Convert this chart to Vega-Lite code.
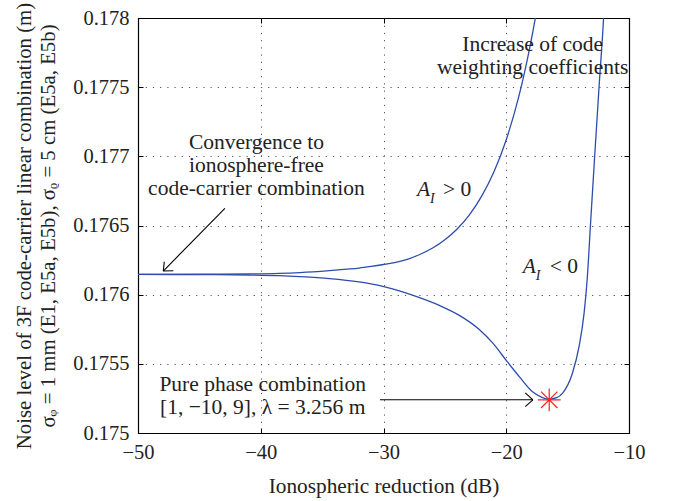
{
  "$schema": "https://vega.github.io/schema/vega-lite/v6.json",
  "width": 491,
  "height": 415,
  "autosize": "none",
  "padding": {"left": 138, "top": 18, "right": 44, "bottom": 68},
  "background": "white",
  "config": {
    "view": {"stroke": "black", "strokeWidth": 1},
    "axis": {
      "labelFont": "Liberation Serif, DejaVu Serif, serif",
      "titleFont": "Liberation Serif, DejaVu Serif, serif",
      "labelFontSize": 20.5,
      "titleFontSize": 21.3,
      "titleFontWeight": "normal",
      "labelColor": "#222",
      "titleColor": "#222",
      "labelFlush": false,
      "domainColor": "black",
      "domainWidth": 1.2,
      "tickColor": "black",
      "tickSize": -5,
      "gridColor": "#555",
      "gridDash": [1.2, 6],
      "gridWidth": 1,
      "gridOpacity": 1
    },
    "text": {"font": "Liberation Serif, DejaVu Serif, serif", "fontSize": 21.5, "color": "#222"}
  },
  "datasets": {
    "curves": [
      {"series": "AI>0", "x": -50, "y": 0.176147},
      {"series": "AI>0", "x": -45, "y": 0.176148},
      {"series": "AI>0", "x": -41, "y": 0.17615},
      {"series": "AI>0", "x": -38.5, "y": 0.176154},
      {"series": "AI>0", "x": -36.8, "y": 0.17616},
      {"series": "AI>0", "x": -34.4, "y": 0.176174},
      {"series": "AI>0", "x": -33, "y": 0.176184},
      {"series": "AI>0", "x": -32, "y": 0.176192},
      {"series": "AI>0", "x": -31, "y": 0.176204},
      {"series": "AI>0", "x": -30, "y": 0.176218},
      {"series": "AI>0", "x": -29, "y": 0.176234},
      {"series": "AI>0", "x": -28, "y": 0.176257},
      {"series": "AI>0", "x": -27, "y": 0.176292},
      {"series": "AI>0", "x": -26, "y": 0.176337},
      {"series": "AI>0", "x": -25, "y": 0.176397},
      {"series": "AI>0", "x": -24, "y": 0.176475},
      {"series": "AI>0", "x": -23, "y": 0.176577},
      {"series": "AI>0", "x": -22, "y": 0.176712},
      {"series": "AI>0", "x": -21, "y": 0.176888},
      {"series": "AI>0", "x": -20, "y": 0.17712},
      {"series": "AI>0", "x": -19, "y": 0.177424},
      {"series": "AI>0", "x": -18.5, "y": 0.17761},
      {"series": "AI>0", "x": -18, "y": 0.177823},
      {"series": "AI>0", "x": -17.5, "y": 0.178067},
      {"series": "AI>0", "x": -17, "y": 0.17835},
      {"series": "AI<0", "x": -50, "y": 0.176146},
      {"series": "AI<0", "x": -45, "y": 0.176145},
      {"series": "AI<0", "x": -41, "y": 0.176142},
      {"series": "AI<0", "x": -38.5, "y": 0.176137},
      {"series": "AI<0", "x": -36.8, "y": 0.17613},
      {"series": "AI<0", "x": -34.4, "y": 0.176116},
      {"series": "AI<0", "x": -32, "y": 0.176092},
      {"series": "AI<0", "x": -30.06, "y": 0.17606},
      {"series": "AI<0", "x": -28.7, "y": 0.176027},
      {"series": "AI<0", "x": -27.35, "y": 0.175987},
      {"series": "AI<0", "x": -25.45, "y": 0.175922},
      {"series": "AI<0", "x": -23.82, "y": 0.17585},
      {"series": "AI<0", "x": -22.2, "y": 0.175748},
      {"series": "AI<0", "x": -21.11, "y": 0.175651},
      {"series": "AI<0", "x": -19.94, "y": 0.175518},
      {"series": "AI<0", "x": -18.94, "y": 0.175408},
      {"series": "AI<0", "x": -17.86, "y": 0.175298},
      {"series": "AI<0", "x": -17.1, "y": 0.175258},
      {"series": "AI<0", "x": -16.5, "y": 0.175244},
      {"series": "AI<0", "x": -15.9, "y": 0.175255},
      {"series": "AI<0", "x": -15.42, "y": 0.175287},
      {"series": "AI<0", "x": -14.61, "y": 0.175432},
      {"series": "AI<0", "x": -14.07, "y": 0.175624},
      {"series": "AI<0", "x": -13.66, "y": 0.175865},
      {"series": "AI<0", "x": -13.41, "y": 0.176106},
      {"series": "AI<0", "x": -13.13, "y": 0.176518},
      {"series": "AI<0", "x": -12.8, "y": 0.176995},
      {"series": "AI<0", "x": -12.44, "y": 0.177501},
      {"series": "AI<0", "x": -12.07, "y": 0.178},
      {"series": "AI<0", "x": -11.91, "y": 0.178275}
    ],
    "star": [{"x": -16.5, "y": 0.17524}],
    "arrows": [
      {"x": -42.92, "y": 0.176624, "x2": -47.94, "y2": 0.176171},
      {"x": -47.94, "y": 0.176171, "x2": -47.12, "y2": 0.176173},
      {"x": -47.94, "y": 0.176171, "x2": -47.86, "y2": 0.176238},
      {"x": -30.29, "y": 0.17524, "x2": -17.83, "y2": 0.17524},
      {"x": -17.83, "y": 0.17524, "x2": -18.45, "y2": 0.17529},
      {"x": -17.83, "y": 0.17524, "x2": -18.45, "y2": 0.17519}
    ],
    "notes": [
      {"text": "Increase of code\nweighting coefficients", "x": -17.85, "y": 0.177805},
      {"text": "Convergence to\nionosphere-free\ncode-carrier combination", "x": -40.35, "y": 0.177096},
      {"text": "Pure phase combination\n[1, \u221210, 9], \u03bb = 3.256 m", "x": -39.84, "y": 0.175347}
    ],
    "relations": [
      {"text": "> 0", "x": -25.16, "y": 0.176713},
      {"text": "< 0", "x": -16.45, "y": 0.176157}
    ],
    "capA": [
      {"text": "A", "x": -27.28, "y": 0.176713},
      {"text": "A", "x": -18.65, "y": 0.176157}
    ],
    "subI": [
      {"text": "I", "x": -26.22, "y": 0.176663},
      {"text": "I", "x": -17.59, "y": 0.176106}
    ]
  },
  "layer": [
    {
      "data": {"name": "curves"},
      "mark": {"type": "line", "color": "#2d4cad", "strokeWidth": 1.3, "clip": true, "interpolate": "monotone"},
      "encoding": {
        "x": {"field": "x", "type": "quantitative",
              "scale": {"domain": [-50, -10], "nice": false, "zero": false},
              "axis": {"values": [-50, -40, -30, -20, -10], "format": "d", "title": "Ionospheric reduction (dB)",
                       "grid": true, "labelPadding": 14, "titlePadding": 13}},
        "y": {"field": "y", "type": "quantitative",
              "scale": {"domain": [0.175, 0.178], "nice": false, "zero": false},
              "axis": {"values": [0.175, 0.1755, 0.176, 0.1765, 0.177, 0.1775, 0.178], "format": "~g",
                       "title": ["Noise level of 3F code-carrier linear combination (m)", "\u03c3\u1d69 = 1 mm (E1, E5a, E5b), \u03c3\u1d68 = 5 cm (E5a, E5b)"],
                       "titleFontSize": 20.8, "titleLineHeight": 24,
                       "grid": true, "labelPadding": 14, "titlePadding": 14}},
        "detail": {"field": "series", "type": "nominal"}
      }
    },
    {
      "data": {"name": "star"},
      "mark": {"type": "point", "opacity": 0},
      "encoding": {
        "x": {"field": "x", "type": "quantitative", "scale": {"domain": [-50, -10], "nice": false, "zero": false},
              "axis": {"orient": "top", "values": [-50, -40, -30, -20, -10], "labels": false, "title": null, "grid": false}},
        "y": {"field": "y", "type": "quantitative", "scale": {"domain": [0.175, 0.178], "nice": false, "zero": false},
              "axis": {"orient": "right", "values": [0.175, 0.1755, 0.176, 0.1765, 0.177, 0.1775, 0.178], "labels": false, "title": null, "grid": false}}
      }
    },
    {
      "data": {"name": "arrows"},
      "mark": {"type": "rule", "color": "black", "strokeWidth": 1.1},
      "encoding": {
        "x": {"field": "x", "type": "quantitative", "scale": {"domain": [-50, -10], "nice": false, "zero": false}, "axis": null},
        "y": {"field": "y", "type": "quantitative", "scale": {"domain": [0.175, 0.178], "nice": false, "zero": false}, "axis": null},
        "x2": {"field": "x2"},
        "y2": {"field": "y2"}
      }
    },
    {
      "data": {"name": "star"},
      "mark": {"type": "point", "shape": "M-1,0L1,0M0,-1L0,1M-0.72,-0.72L0.72,0.72M-0.72,0.72L0.72,-0.72", "filled": false, "color": "#ff2020", "size": 520, "strokeWidth": 1.2, "opacity": 1},
      "encoding": {
        "x": {"field": "x", "type": "quantitative", "scale": {"domain": [-50, -10], "nice": false, "zero": false}, "axis": null},
        "y": {"field": "y", "type": "quantitative", "scale": {"domain": [0.175, 0.178], "nice": false, "zero": false}, "axis": null}
      }
    },
    {
      "data": {"name": "notes"},
      "mark": {"type": "text", "align": "center", "baseline": "middle", "lineBreak": "\n", "lineHeight": 23},
      "encoding": {
        "x": {"field": "x", "type": "quantitative", "scale": {"domain": [-50, -10], "nice": false, "zero": false}, "axis": null},
        "y": {"field": "y", "type": "quantitative", "scale": {"domain": [0.175, 0.178], "nice": false, "zero": false}, "axis": null},
        "text": {"field": "text"}
      }
    },
    {
      "data": {"name": "relations"},
      "mark": {"type": "text", "align": "left", "baseline": "alphabetic"},
      "encoding": {
        "x": {"field": "x", "type": "quantitative", "scale": {"domain": [-50, -10], "nice": false, "zero": false}, "axis": null},
        "y": {"field": "y", "type": "quantitative", "scale": {"domain": [0.175, 0.178], "nice": false, "zero": false}, "axis": null},
        "text": {"field": "text"}
      }
    },
    {
      "data": {"name": "capA"},
      "mark": {"type": "text", "align": "left", "baseline": "alphabetic", "fontStyle": "italic"},
      "encoding": {
        "x": {"field": "x", "type": "quantitative", "scale": {"domain": [-50, -10], "nice": false, "zero": false}, "axis": null},
        "y": {"field": "y", "type": "quantitative", "scale": {"domain": [0.175, 0.178], "nice": false, "zero": false}, "axis": null},
        "text": {"field": "text"}
      }
    },
    {
      "data": {"name": "subI"},
      "mark": {"type": "text", "align": "left", "baseline": "alphabetic", "fontStyle": "italic", "fontSize": 14},
      "encoding": {
        "x": {"field": "x", "type": "quantitative", "scale": {"domain": [-50, -10], "nice": false, "zero": false}, "axis": null},
        "y": {"field": "y", "type": "quantitative", "scale": {"domain": [0.175, 0.178], "nice": false, "zero": false}, "axis": null},
        "text": {"field": "text"}
      }
    }
  ],
  "resolve": {"axis": {"x": "independent", "y": "independent"}}
}
